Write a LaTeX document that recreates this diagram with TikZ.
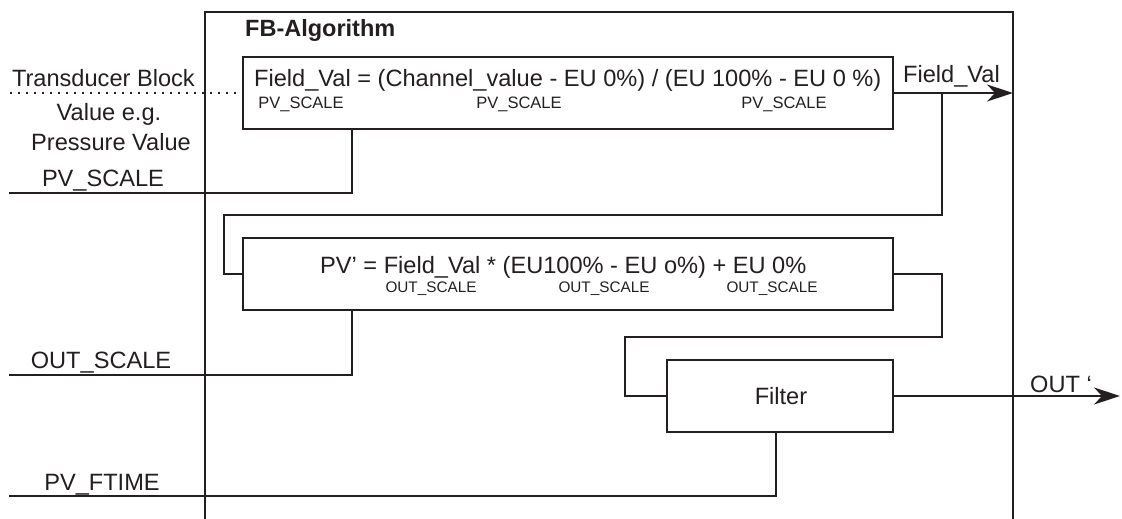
\documentclass[tikz,border=0pt]{standalone}
\usepackage{fontspec}
\setmainfont{Liberation Sans}
\usetikzlibrary{arrows.meta}
\definecolor{ink}{HTML}{231F20}
\begin{document}
\begin{tikzpicture}[x=1pt,y=-1pt,
  line/.style={line width=1.6pt, draw=ink},
  box/.style={draw=ink, line width=1.6pt, inner sep=0pt, rectangle, fill=white},
  lbl/.style={inner sep=0pt, text=ink, font=\fontsize{23.6}{28}\selectfont},
  blbl/.style={inner sep=0pt, text=ink, font=\fontsize{23.5}{28}\selectfont\bfseries},
  psub/.style={inner sep=0pt, text=ink, font=\fontsize{16.5}{20}\selectfont},
  osub/.style={inner sep=0pt, text=ink, font=\fontsize{15.3}{18}\selectfont},
  arr/.style={-{Stealth[length=26pt,width=17pt,inset=8pt]}}
]
\useasboundingbox (0,0) rectangle (1122,519);
\fill[white] (0,0) rectangle (1122,519);

% outer FB-Algorithm frame (open at the bottom)
\draw[line] (205,519) -- (205,12) -- (1013,12) -- (1013,519);
\node[blbl, anchor=base west] (title) at (245,37) {FB-Algorithm};

% boxes
\node[box, minimum width=650pt, minimum height=72pt] (b1) at (568,93) {};
\node[box, minimum width=650pt, minimum height=72pt] (b2) at (568,274) {};
\node[box, minimum width=226pt, minimum height=72pt] (flt) at (780,396) {};

% box texts
\node[lbl, anchor=base west] (f1) at (254,87) {Field\_Val = (Channel\_value - EU 0\%) / (EU 100\% - EU 0 \%)};
\node[psub, anchor=base] (s1a) at (301,108) {PV\_SCALE};
\node[psub, anchor=base] (s1b) at (519,108) {PV\_SCALE};
\node[psub, anchor=base] (s1c) at (784,108) {PV\_SCALE};

\node[lbl, anchor=base west] (f2) at (320,273) {PV’ = Field\_Val * (EU100\% - EU o\%) + EU 0\%};
\node[osub, anchor=base] (s2a) at (431,292) {OUT\_SCALE};
\node[osub, anchor=base] (s2b) at (604,292) {OUT\_SCALE};
\node[osub, anchor=base] (s2c) at (772,292) {OUT\_SCALE};

\node[lbl, anchor=base] (ftxt) at (781,404) {Filter};

% left labels
\node[lbl, anchor=base east] (tb) at (195,87) {Transducer Block};
\node[lbl, anchor=base] (ve) at (109,121) {Value e.g.};
\node[lbl, anchor=base] (pv) at (111,150) {Pressure Value};
\node[lbl, anchor=base] (pvs) at (103,186) {PV\_SCALE};
\node[lbl, anchor=base] (outs) at (101,368) {OUT\_SCALE};
\node[lbl, anchor=base] (pvf) at (102,490) {PV\_FTIME};

% right labels
\node[lbl, anchor=base west] (fv) at (903,83) {Field\_Val};
\node[lbl, anchor=base west] (out) at (1030,392) {OUT ‘};

% coordinates
\coordinate (tbStart) at (10,93);
\coordinate (fvEnd) at (1013,93);
\coordinate (br1) at (942,93);
\coordinate (pvsStart) at (9,193);
\coordinate (outsStart) at (9,375);
\coordinate (pvfStart) at (9,496);
\coordinate (outEnd) at (1120,396);

% connectors
\draw[line, dash pattern=on 1.6pt off 6.4pt] (tbStart) -- (b1.west);
\draw[line, arr] (b1.east) -- (fvEnd);
\draw[line] (br1) -- (942,215) -- (224,215) -- (224,274) -- (b2.west);
\draw[line] (pvsStart) -- (352,193) -- (b1.south -| 352,0);
\draw[line] (b2.east) -- (942,274) -- (942,337) -- (625,337) -- (625,396) -- (flt.west);
\draw[line] (outsStart) -- (352,375) -- (b2.south -| 352,0);
\draw[line] (pvfStart) -- (776,496) -- (flt.south -| 776,0);
\draw[line, arr] (flt.east) -- (outEnd);
\end{tikzpicture}
\end{document}
